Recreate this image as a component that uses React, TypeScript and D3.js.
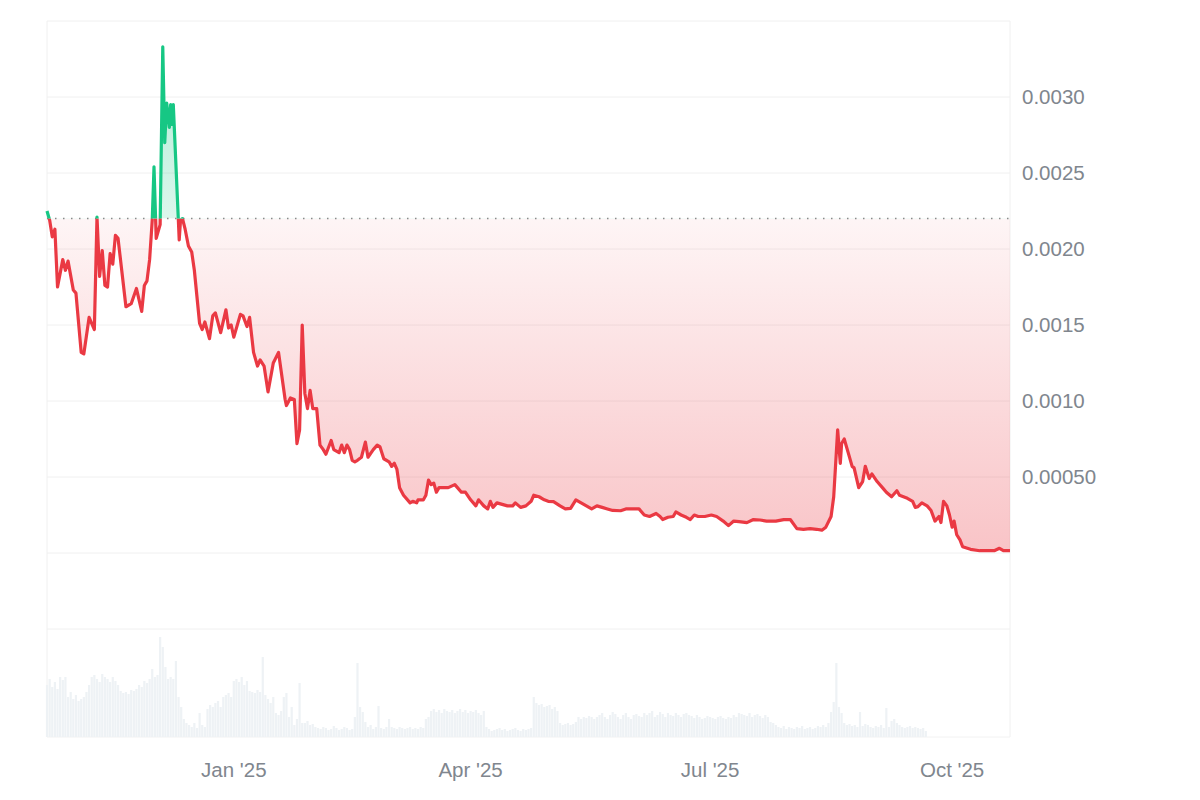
import React from "react";
import * as d3 from "d3";

const START_DATE = "2024-10-22";
const END_DATE = "2025-10-23";
const BASELINE_PRICE = 0.0022;

const priceDates = [
  "2024-10-22", "2024-10-23", "2024-10-24", "2024-10-25", "2024-10-26", "2024-10-28", "2024-10-29", "2024-10-30",
  "2024-11-01", "2024-11-02", "2024-11-04", "2024-11-05", "2024-11-07", "2024-11-09", "2024-11-10", "2024-11-11",
  "2024-11-12", "2024-11-13", "2024-11-14", "2024-11-15", "2024-11-16", "2024-11-17", "2024-11-18", "2024-11-21",
  "2024-11-23", "2024-11-25", "2024-11-27", "2024-11-28", "2024-11-29", "2024-11-30", "2024-12-01", "2024-12-01T16",
  "2024-12-02T12", "2024-12-04", "2024-12-05", "2024-12-05T18", "2024-12-06T12", "2024-12-07T12", "2024-12-08", "2024-12-08T14",
  "2024-12-09", "2024-12-10T21", "2024-12-11T06", "2024-12-11T18", "2024-12-12T12", "2024-12-13T12", "2024-12-14T18", "2024-12-16",
  "2024-12-17", "2024-12-19", "2024-12-20", "2024-12-21", "2024-12-22T18", "2024-12-24", "2024-12-25", "2024-12-27",
  "2024-12-29", "2024-12-30", "2024-12-31", "2025-01-01", "2025-01-03T12", "2025-01-04T12", "2025-01-06", "2025-01-07",
  "2025-01-08T12", "2025-01-10", "2025-01-11", "2025-01-12T12", "2025-01-14", "2025-01-16", "2025-01-18", "2025-01-20T12",
  "2025-01-21", "2025-01-22T12", "2025-01-24", "2025-01-25", "2025-01-26", "2025-01-27", "2025-01-28", "2025-01-29",
  "2025-01-30", "2025-01-31", "2025-02-01T12", "2025-02-02T18", "2025-02-04", "2025-02-05", "2025-02-07", "2025-02-08",
  "2025-02-09", "2025-02-10", "2025-02-11", "2025-02-12", "2025-02-13", "2025-02-14", "2025-02-15", "2025-02-16",
  "2025-02-17", "2025-02-18T12", "2025-02-20", "2025-02-21", "2025-02-23", "2025-02-24T12", "2025-02-25T12", "2025-02-27",
  "2025-03-01", "2025-03-02", "2025-03-03", "2025-03-04", "2025-03-05", "2025-03-06T12", "2025-03-09", "2025-03-10",
  "2025-03-11T12", "2025-03-12", "2025-03-14", "2025-03-15", "2025-03-16", "2025-03-17", "2025-03-18", "2025-03-19",
  "2025-03-20", "2025-03-21T12", "2025-03-23T12", "2025-03-26", "2025-03-27", "2025-03-28T12", "2025-03-30", "2025-04-01",
  "2025-04-03", "2025-04-04", "2025-04-06", "2025-04-07T12", "2025-04-08T12", "2025-04-09T12", "2025-04-11", "2025-04-13",
  "2025-04-15", "2025-04-17", "2025-04-18", "2025-04-20", "2025-04-22", "2025-04-24", "2025-04-25", "2025-04-27",
  "2025-04-29", "2025-04-30T12", "2025-05-02T12", "2025-05-05", "2025-05-07", "2025-05-09", "2025-05-11", "2025-05-13",
  "2025-05-15", "2025-05-17", "2025-05-19", "2025-05-21", "2025-05-23", "2025-05-25", "2025-05-28", "2025-05-30",
  "2025-06-02", "2025-06-04", "2025-06-06", "2025-06-08", "2025-06-10T12", "2025-06-12", "2025-06-13", "2025-06-15",
  "2025-06-17", "2025-06-18", "2025-06-20", "2025-06-22", "2025-06-23T12", "2025-06-25", "2025-06-26T12", "2025-06-29",
  "2025-07-01T12", "2025-07-03T12", "2025-07-06", "2025-07-08", "2025-07-10", "2025-07-12", "2025-07-15", "2025-07-17T12",
  "2025-07-20", "2025-07-22T12", "2025-07-26", "2025-07-29", "2025-07-31T12", "2025-08-03", "2025-08-05T12", "2025-08-08",
  "2025-08-10T12", "2025-08-12T12", "2025-08-14", "2025-08-16", "2025-08-17", "2025-08-18T12", "2025-08-19T12", "2025-08-20",
  "2025-08-21", "2025-08-22T12", "2025-08-24", "2025-08-24T18", "2025-08-26T12", "2025-08-28", "2025-08-29", "2025-08-30T12",
  "2025-08-31T12", "2025-09-02T12", "2025-09-05", "2025-09-06", "2025-09-08", "2025-09-10", "2025-09-11", "2025-09-14",
  "2025-09-16", "2025-09-17", "2025-09-18", "2025-09-19T12", "2025-09-21T12", "2025-09-23", "2025-09-24T12", "2025-09-26",
  "2025-09-26T18", "2025-09-27T18", "2025-09-29", "2025-09-30", "2025-10-01", "2025-10-01T18", "2025-10-02T18", "2025-10-04",
  "2025-10-05", "2025-10-08", "2025-10-11T12", "2025-10-17", "2025-10-19", "2025-10-20T12", "2025-10-23",
];

const priceValues = [
  0.00225, 0.00219, 0.00208, 0.00213, 0.00175, 0.00193, 0.00186, 0.00192,
  0.00173, 0.00171, 0.00132, 0.00131, 0.00155, 0.00147, 0.00221, 0.00182,
  0.00199, 0.00176, 0.00175, 0.00197, 0.0019, 0.00209, 0.00207, 0.00162,
  0.00164, 0.00174, 0.00159, 0.00176, 0.00179, 0.00193, 0.00219, 0.00254,
  0.00207, 0.00216, 0.00333, 0.0027, 0.00296, 0.0028, 0.00295, 0.00282,
  0.00295, 0.00221, 0.00206, 0.00219, 0.0022, 0.00213, 0.00202, 0.00198,
  0.00186, 0.00151, 0.00147, 0.00152, 0.00141, 0.00156, 0.00158, 0.00145,
  0.0016, 0.00148, 0.0015, 0.00142, 0.00157, 0.00156, 0.00149, 0.00155,
  0.00132, 0.00123, 0.00127, 0.00123, 0.00106, 0.00125, 0.00132, 0.00101,
  0.00097, 0.00102, 0.00101, 0.00072, 0.00081, 0.0015, 0.00105, 0.00095,
  0.00107, 0.00095, 0.00095, 0.00071, 0.00068, 0.00065, 0.00074, 0.00068,
  0.00067, 0.00066, 0.00071, 0.00066, 0.00071, 0.00068, 0.00061, 0.0006,
  0.00061, 0.00063, 0.00073, 0.00063, 0.00068, 0.00071, 0.0007, 0.00062,
  0.0006, 0.00057, 0.00059, 0.00055, 0.00043, 0.00038, 0.00033, 0.00034,
  0.00033, 0.00035, 0.000349, 0.00038, 0.00048, 0.00045, 0.00046, 0.0004,
  0.00043, 0.00043, 0.00043, 0.00045, 0.00043, 0.0004, 0.0004, 0.00035,
  0.00031, 0.00035, 0.00031, 0.00029, 0.00034, 0.0003, 0.00033, 0.00032,
  0.00031, 0.00031, 0.00033, 0.0003, 0.00031, 0.00034, 0.00038, 0.00037,
  0.00035, 0.00034, 0.000338, 0.00031, 0.00029, 0.000294, 0.00035, 0.00033,
  0.00031, 0.00029, 0.00031, 0.0003, 0.00029, 0.00028, 0.000278, 0.00029,
  0.00029, 0.00029, 0.00025, 0.00024, 0.00026, 0.00024, 0.00022, 0.000235,
  0.00024, 0.00027, 0.00025, 0.000235, 0.00022, 0.00025, 0.00024, 0.00024,
  0.00025, 0.00024, 0.00021, 0.00018, 0.00021, 0.000206, 0.0002, 0.00022,
  0.000217, 0.00021, 0.00021, 0.00022, 0.00022, 0.00016, 0.000156, 0.00016,
  0.000156, 0.00015, 0.00017, 0.00024, 0.00037, 0.00081, 0.00059, 0.00072,
  0.00075, 0.00066, 0.00057, 0.00056, 0.00043, 0.00047, 0.00057, 0.00049,
  0.00052, 0.00047, 0.00042, 0.0004, 0.00037, 0.00041, 0.00038, 0.00036,
  0.00034, 0.0003, 0.000305, 0.00033, 0.00031, 0.00028, 0.00021, 0.00024,
  0.0002, 0.00034, 0.00031, 0.00025, 0.00017, 0.00021, 0.00012, 0.000086,
  0.000041, 0.000024, 0.000015, 0.000015, 0.000031, 0.000015, 0.000015,
];

// daily volume (relative units), one bar per day starting at VOLUME_START
const VOLUME_START = "2024-10-22";
const volumeValues = [
  52, 58, 50, 55, 48, 60, 57, 60,
  40, 45, 38, 42, 36, 38, 40, 45,
  52, 60, 62, 58, 55, 63, 60, 58, 55, 60, 56, 52,
  46, 44, 45, 43, 47, 46, 48,
  52, 50, 56, 54, 58,
  68, 60, 62, 100, 90, 70, 58, 60, 58, 76, 40, 30, 18, 14,
  12, 10, 14, 9, 24, 12, 10,
  28, 32, 30, 34, 36, 30,
  40, 42, 44, 40,
  56, 58, 55, 60, 52, 56,
  46, 45, 44, 47, 45, 80,
  42, 38, 34, 40,
  24, 22, 26, 40, 44,
  20, 30, 12, 18, 54, 14,
  14, 16, 12, 13, 10, 9,
  8, 10, 9, 7, 8, 11, 9, 7, 8, 10, 9, 7, 8,
  20, 74, 30, 25, 15, 10, 12, 8, 10, 31, 9, 8, 10, 18, 10,
  9, 8, 10, 9, 8, 9, 10, 8, 9, 8, 10, 9, 18,
  20, 26, 28, 25, 27, 24, 28, 26, 25, 27, 24, 26, 28, 25, 27, 24, 26, 25, 27, 24, 22, 26,
  10, 8, 6, 7, 8, 9, 7, 8, 6, 7, 8, 9, 7, 6, 8, 7, 8, 9,
  40, 34, 32, 33, 30, 31, 32, 28, 30, 26,
  14, 12, 13, 14, 12, 13, 15,
  20, 18, 20, 19, 21, 20, 18, 20,
  22, 24, 20, 18, 22, 25, 23, 20, 18, 22, 24, 20, 18, 22, 23, 21, 20, 24,
  22, 24, 26, 20, 22, 25, 23, 20, 24, 22, 21, 24, 22, 20, 23, 24, 22, 21, 19, 22,
  20, 18, 19, 21, 20, 19, 18, 20, 21, 19, 18, 20, 19,
  22, 20, 24, 23, 22, 21, 24, 20, 22, 23, 21, 19, 22, 20,
  15, 14, 12,
  10, 9, 11, 8, 10, 9, 8, 10, 9, 11, 8, 9, 10, 8, 9, 11, 10,
  12, 10, 14, 25, 35, 74, 30, 24, 14,
  12, 13, 11, 12, 10, 25, 11, 13,
  12, 10, 9, 11, 10, 12, 9, 29, 10,
  16, 18, 14, 12, 10, 9, 10, 11, 9, 10,
  9, 8, 9, 6,
];

const yTickValues = [0.0005, 0.001, 0.0015, 0.002, 0.0025, 0.003];
const yTickLabels = ["0.00050", "0.0010", "0.0015", "0.0020", "0.0025", "0.0030"];
const gridValues = [0, 0.0005, 0.001, 0.0015, 0.002, 0.0025, 0.003, 0.0035];
const xTickDates = ["2025-01-01", "2025-04-01", "2025-07-01", "2025-10-01"];
const xTickLabels = ["Jan '25", "Apr '25", "Jul '25", "Oct '25"];

const RED = "#ea3943";
const GREEN = "#16c784";
const FONT = "'Liberation Sans', Arial, Helvetica, sans-serif";

const parseHour = d3.utcParse("%Y-%m-%dT%H");
const parseDay = d3.utcParse("%Y-%m-%d");
const parse = (s: string): Date => (s.length > 10 ? parseHour(s)! : parseDay(s)!);

export default function App() {
  const W = 1200;
  const H = 800;
  const left = 47;
  const right = 1010;
  const priceTop = 21;
  const priceBottom = 553;
  const volTop = 629;
  const volBottom = 737;

  const x = d3.scaleUtc().domain([parse(START_DATE), parse(END_DATE)]).range([left, right]);
  const y = d3.scaleLinear().domain([0, 0.0035]).range([priceBottom, priceTop]);
  const yVol = d3.scaleLinear().domain([0, 108]).range([volBottom, volTop]);

  const data = priceDates.map((d, i) => ({ date: parse(d), value: priceValues[i] }));
  const baseY = y(BASELINE_PRICE);

  const line = d3
    .line<{ date: Date; value: number }>()
    .x((d) => x(d.date))
    .y((d) => y(d.value))
    .curve(d3.curveLinear);
  const area = d3
    .area<{ date: Date; value: number }>()
    .x((d) => x(d.date))
    .y0(baseY)
    .y1((d) => y(d.value))
    .curve(d3.curveLinear);

  const linePath = line(data) || "";
  const areaPath = area(data) || "";
  const volStart = parse(VOLUME_START);

  return (
    <svg
      width={W}
      height={H}
      style={{ position: "absolute", left: 0, top: 0, background: "#fff" }}
      fontFamily={FONT}
    >
      <defs>
        <clipPath id="clipAbove">
          <rect x={0} y={0} width={W} height={baseY} />
        </clipPath>
        <clipPath id="clipBelow">
          <rect x={0} y={baseY} width={W} height={H - baseY} />
        </clipPath>
        <linearGradient id="redGrad" gradientUnits="userSpaceOnUse" x1={0} y1={baseY} x2={0} y2={priceBottom}>
          <stop offset="0" stopColor={RED} stopOpacity={0.05} />
          <stop offset="1" stopColor={RED} stopOpacity={0.3} />
        </linearGradient>
        <linearGradient id="greenGrad" gradientUnits="userSpaceOnUse" x1={0} y1={y(0.0033)} x2={0} y2={baseY}>
          <stop offset="0" stopColor={GREEN} stopOpacity={0.35} />
          <stop offset="1" stopColor={GREEN} stopOpacity={0.15} />
        </linearGradient>
      </defs>

      {/* grid */}
      {gridValues.map((v) => (
        <line key={"g" + v} x1={left} x2={right} y1={y(v)} y2={y(v)} stroke="#f0f0f0" strokeWidth={1} />
      ))}
      <line x1={left} x2={right} y1={volTop} y2={volTop} stroke="#f0f0f0" strokeWidth={1} />
      <line x1={left} x2={right} y1={volBottom} y2={volBottom} stroke="#f2f2f2" strokeWidth={1} />
      <line x1={left} x2={left} y1={priceTop} y2={volBottom} stroke="#f0f0f0" strokeWidth={1} />
      <line x1={right} x2={right} y1={priceTop} y2={volBottom} stroke="#f0f0f0" strokeWidth={1} />

      {/* volume */}
      {volumeValues.map((v, i) => {
        const d = d3.utcDay.offset(volStart, i);
        const cx = x(d);
        return (
          <rect
            key={"v" + i}
            x={cx - 1.1}
            y={yVol(v)}
            width={2.2}
            height={volBottom - yVol(v)}
            fill="#eef2f5"
          />
        );
      })}

      {/* areas */}
      <path d={areaPath} fill="url(#redGrad)" clipPath="url(#clipBelow)" />
      <path d={areaPath} fill="url(#greenGrad)" clipPath="url(#clipAbove)" />

      {/* baseline */}
      <line
        x1={left}
        x2={right}
        y1={baseY}
        y2={baseY}
        stroke="#8a8a8a"
        strokeWidth={1.5}
        strokeDasharray="1.5 6.5"
      />

      {/* lines */}
      <path d={linePath} fill="none" stroke={RED} strokeWidth={3.2} strokeLinejoin="round" clipPath="url(#clipBelow)" />
      <path d={linePath} fill="none" stroke={GREEN} strokeWidth={3.2} strokeLinejoin="round" clipPath="url(#clipAbove)" />

      {/* y labels */}
      {yTickValues.map((v, i) => (
        <text key={"yt" + i} x={1022} y={y(v)} dy="0.35em" fontSize={20.5} fill="#80868e">
          {yTickLabels[i]}
        </text>
      ))}

      {/* x labels */}
      {xTickDates.map((d, i) => (
        <text key={"xt" + i} x={x(parse(d))} y={777} textAnchor="middle" fontSize={20.5} fill="#80868e">
          {xTickLabels[i]}
        </text>
      ))}
    </svg>
  );
}
